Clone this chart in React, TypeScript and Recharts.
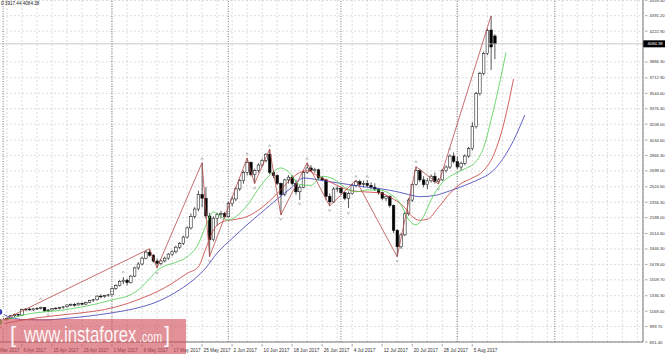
import React from "react";
import { Bar, CartesianGrid, ComposedChart, Line, ReferenceLine, Scatter, XAxis, YAxis } from "recharts";

// daily bars, index 0 = 29 Mar 2017; the chart keeps empty space on the right
const TOTAL_BARS = 174;
const FIRST_BAR = 2;

const dateLabels = [
  "29 Mar 2017", "6 Apr 2017", "15 Apr 2017", "23 Apr 2017", "1 May 2017", "9 May 2017",
  "17 May 2017", "25 May 2017", "2 Jun 2017", "10 Jun 2017", "18 Jun 2017", "26 Jun 2017",
  "4 Jul 2017", "12 Jul 2017", "20 Jul 2017", "28 Jul 2017", "5 Aug 2017",
];

// 4054.60 sits under the last-price box, so it is left out
const priceTicks = [
  4559.5, 4391.2, 4222.9, 3886.3, 3712.9, 3544.6, 3376.3, 3208.0, 3034.6, 2866.3, 2698.0,
  2524.6, 2356.3, 2188.0, 2014.6, 1846.3, 1678.0, 1509.7, 1336.3, 1168.0, 999.7, 831.4,
];

const opens = [
  1045, 1070, 1082, 1090, 1118, 1132, 1125, 1186, 1190, 1182, 1194, 1199, 1206, 1172, 1181, 1195,
  1201, 1207, 1216, 1236, 1240, 1236, 1252, 1245, 1263, 1286, 1292, 1332, 1326, 1338, 1346, 1416,
  1450, 1494, 1506, 1480, 1550, 1640, 1682, 1746, 1812, 1778, 1714, 1690, 1716, 1746, 1790, 1816,
  1866, 1906, 1976, 2076, 2202, 2282, 2440, 2400, 2206, 1948, 2182, 2222, 2232, 2198, 2342, 2392,
  2502, 2592, 2682, 2792, 2658, 2702, 2762, 2812, 2880, 2680, 2648, 2562, 2440, 2600, 2630, 2560,
  2470, 2520, 2680, 2730, 2700, 2710, 2620, 2600, 2420, 2360, 2500, 2510, 2460, 2400, 2450, 2540,
  2580, 2552, 2562, 2540, 2520, 2500, 2460, 2400, 2420, 2320, 2050, 1870, 2000, 2230, 2380, 2550,
  2700, 2600, 2548, 2590, 2640, 2580, 2600, 2700, 2740, 2860, 2800, 2740, 2780, 2860, 2940, 3180,
  3540, 3760, 3980, 4235, 4170,
];
const highs = [
  1078, 1095, 1102, 1125, 1142, 1140, 1195, 1202, 1206, 1200, 1212, 1218, 1212, 1190, 1200, 1210,
  1214, 1222, 1242, 1252, 1256, 1262, 1264, 1272, 1292, 1302, 1342, 1352, 1346, 1356, 1428, 1462,
  1506, 1540, 1522, 1562, 1652, 1702, 1762, 1832, 1848, 1792, 1742, 1732, 1762, 1802, 1832, 1882,
  1922, 1992, 2092, 2232, 2302, 2482, 2787, 2522, 2240, 2202, 2242, 2262, 2252, 2362, 2422, 2522,
  2612, 2702, 2838, 2802, 2722, 2782, 2832, 2892, 2936, 2702, 2662, 2572, 2612, 2652, 2652, 2602,
  2542, 2702, 2787, 2762, 2732, 2722, 2642, 2612, 2452, 2522, 2532, 2522, 2472, 2472, 2562, 2598,
  2602, 2592, 2598, 2572, 2562, 2512, 2472, 2432, 2432, 2332, 2062, 2022, 2252, 2402, 2562, 2745,
  2722, 2640, 2620, 2660, 2680, 2620, 2720, 2760, 2880, 2900, 2850, 2800, 2880, 2960, 3230, 3560,
  3780, 4000, 4250, 4388, 4190,
];
const lows = [
  1030, 1060, 1068, 1080, 1105, 1108, 1118, 1168, 1172, 1168, 1180, 1186, 1160, 1155, 1172, 1184,
  1188, 1194, 1205, 1224, 1218, 1228, 1232, 1238, 1254, 1268, 1284, 1308, 1314, 1324, 1338, 1400,
  1438, 1462, 1448, 1468, 1538, 1618, 1668, 1734, 1762, 1698, 1640, 1668, 1700, 1728, 1768, 1798,
  1848, 1888, 1958, 2058, 2178, 2258, 2300, 2176, 1762, 1928, 2100, 2178, 2178, 2188, 2308, 2368,
  2478, 2558, 2648, 2638, 2560, 2678, 2738, 2790, 2660, 2620, 2544, 2217, 2420, 2560, 2538, 2438,
  2381, 2508, 2668, 2688, 2678, 2598, 2588, 2378, 2315, 2348, 2468, 2438, 2378, 2293, 2438, 2518,
  2528, 2518, 2520, 2498, 2478, 2438, 2378, 2368, 2298, 2018, 1762, 1848, 1988, 2208, 2358, 2538,
  2578, 2520, 2500, 2570, 2560, 2555, 2590, 2680, 2720, 2780, 2720, 2700, 2760, 2840, 2920, 3160,
  3520, 3740, 3960, 3799, 3917.44,
];
const closes = [
  1070, 1082, 1090, 1118, 1132, 1125, 1186, 1190, 1182, 1194, 1199, 1206, 1172, 1181, 1195, 1201,
  1207, 1216, 1236, 1240, 1236, 1252, 1245, 1263, 1286, 1292, 1332, 1326, 1338, 1346, 1416, 1450,
  1494, 1506, 1480, 1550, 1640, 1682, 1746, 1812, 1778, 1714, 1690, 1716, 1746, 1790, 1816, 1866,
  1906, 1976, 2076, 2202, 2282, 2440, 2400, 2206, 1948, 2182, 2222, 2232, 2198, 2342, 2392, 2502,
  2592, 2682, 2792, 2658, 2702, 2762, 2812, 2880, 2680, 2648, 2562, 2440, 2600, 2630, 2560, 2470,
  2520, 2680, 2730, 2700, 2710, 2620, 2600, 2420, 2360, 2500, 2510, 2460, 2400, 2450, 2540, 2580,
  2552, 2562, 2540, 2520, 2500, 2460, 2400, 2420, 2320, 2050, 1870, 2000, 2230, 2380, 2550, 2700,
  2600, 2548, 2590, 2640, 2580, 2600, 2700, 2740, 2860, 2800, 2740, 2780, 2860, 2940, 3180, 3540,
  3760, 3980, 4230, 4050, 4084.38,
];

// Alligator lines at [bar, price]
const lips: [number, number][] = [
  [2, 1050], [6, 1100], [10, 1140], [14, 1160], [18, 1175], [22, 1200], [26, 1230], [30, 1270],
  [33, 1300], [36, 1330], [39, 1400], [42, 1520], [44, 1610], [46, 1660], [49, 1700], [52, 1760],
  [55, 1900], [57, 2100], [59, 2250], [61, 2200], [63, 2160], [65, 2200], [68, 2320], [71, 2500],
  [74, 2650], [77, 2730], [79, 2690], [82, 2550], [85, 2540], [88, 2640], [91, 2610], [94, 2520],
  [97, 2470], [100, 2490], [103, 2490], [106, 2450], [109, 2330], [111, 2170], [113, 2110],
  [115, 2200], [117, 2380], [120, 2570], [123, 2660], [126, 2720], [129, 2800], [131, 2950],
  [133, 3250], [135, 3600], [137, 3990],
];
const teeth: [number, number][] = [
  [2, 1020], [8, 1070], [16, 1115], [24, 1150], [30, 1185], [36, 1250], [40, 1310], [44, 1380],
  [48, 1470], [52, 1580], [55, 1650], [57, 1850], [59, 2050], [62, 2150], [65, 2170], [68, 2200],
  [72, 2300], [76, 2450], [79, 2580], [82, 2680], [84, 2700], [87, 2640], [91, 2560], [95, 2490],
  [99, 2470], [103, 2460], [107, 2390], [110, 2300], [112, 2200], [114, 2160], [116, 2170],
  [119, 2300], [122, 2450], [125, 2560], [128, 2620], [131, 2700], [134, 2900], [136, 3150],
  [139, 3700],
];
const jaw: [number, number][] = [
  [2, 1160], [5, 1100], [9, 1075], [14, 1072], [20, 1090], [26, 1115], [32, 1150], [38, 1195],
  [44, 1270], [50, 1400], [54, 1520], [57, 1640], [60, 1800], [64, 1960], [68, 2110], [72, 2250],
  [76, 2390], [80, 2520], [83, 2620], [87, 2600], [90, 2580], [95, 2550], [99, 2525], [104, 2500],
  [108, 2471], [111, 2440], [114, 2417], [118, 2430], [122, 2480], [126, 2540], [130, 2610],
  [133, 2680], [136, 2820], [139, 3030], [142, 3308],
];

const zigzag: [number, number][] = [
  [1, 1030], [42, 1848], [44, 1640], [56, 2787], [58, 1762], [68, 2838], [70, 2560], [74, 2936],
  [77, 2217], [84, 2787], [90, 2315], [97, 2598], [108, 1762], [113, 2745], [119, 2555], [133, 4388],
];

const fractalUp: [number, number][] = [
  [13, 1290], [35, 1580], [56, 2817], [68, 2871], [74, 2960], [84, 2817], [97, 2625], [100, 2625],
  [113, 2784], [122, 2926],
];
const fractalDown: [number, number][] = [
  [15, 1140], [44, 1595], [58, 1726], [70, 2522], [77, 2184], [82, 2350], [90, 2280], [95, 2250],
  [108, 1726], [119, 2511],
];

const separators = [3, 32, 63, 93, 124, 150];
const lastPrice = 4084.38;

type Row = {
  b: number;
  open?: number;
  high?: number;
  low?: number;
  close?: number;
  range?: [number, number];
  lips?: number;
  teeth?: number;
  jaw?: number;
  zz?: number;
  fUp?: number;
  fDown?: number;
};

const rows: Row[] = Array.from({ length: TOTAL_BARS }, (_, b) => ({ b }));
opens.forEach((o, i) => {
  const r = rows[FIRST_BAR + i];
  r.open = o;
  r.high = highs[i];
  r.low = lows[i];
  r.close = closes[i];
  r.range = [lows[i], highs[i]];
});
lips.forEach(([b, v]) => (rows[b].lips = v));
teeth.forEach(([b, v]) => (rows[b].teeth = v));
jaw.forEach(([b, v]) => (rows[b].jaw = v));
zigzag.forEach(([b, v]) => (rows[b].zz = v));
fractalUp.forEach(([b, v]) => (rows[b].fUp = v));
fractalDown.forEach(([b, v]) => (rows[b].fDown = v));

const gridBars: number[] = [];
for (let b = 0; b < TOTAL_BARS; b += 4) gridBars.push(b);

const labelByBar = new Map<number, string>(dateLabels.map((d, i) => [i * 8, d]));

const FONT = "'Liberation Sans', Arial, sans-serif";

const Candle = (props: any) => {
  const { x, y, width, height, payload } = props;
  if (payload == null || payload.high == null) return <g />;
  const { open, close, high, low } = payload;
  const span = high - low || 1;
  const py = (p: number) => y + ((high - p) / span) * height;
  const cx = x + width / 2;
  const top = py(Math.max(open, close));
  const bot = py(Math.min(open, close));
  const bull = close >= open;
  return (
    <g>
      <line x1={cx} x2={cx} y1={y} y2={y + height} stroke="#111" strokeWidth={0.7} />
      <rect
        x={cx - 1.3}
        y={top}
        width={2.6}
        height={Math.max(bot - top, 0.7)}
        fill={bull ? "#fff" : "#000"}
        stroke="#111"
        strokeWidth={0.55}
      />
    </g>
  );
};

const FractalMark = (props: any) => {
  const { cx, cy, up } = props;
  if (cx == null || cy == null || Number.isNaN(cy)) return <g />;
  const d = up ? -1 : 1;
  return (
    <path
      d={`M${cx - 1.3},${cy} L${cx},${cy + d * 2.2} L${cx + 1.3},${cy}`}
      fill="none"
      stroke="#8a8a8a"
      strokeWidth={0.6}
    />
  );
};

const DateTick = (props: any) => {
  const { x, y, payload } = props;
  const label = labelByBar.get(payload.value);
  if (!label) return <g />;
  return (
    <g>
      <line x1={x} x2={x} y1={y} y2={y + 2.5} stroke="#666" strokeWidth={0.6} />
      <text x={x + 1.5} y={y + 7.5} fontSize={4.7} fill="#333" fontFamily={FONT}>
        {label}
      </text>
    </g>
  );
};

const PriceTick = (props: any) => {
  const { x, y, payload } = props;
  return (
    <g>
      <line x1={x} x2={x + 2.5} y1={y} y2={y} stroke="#666" strokeWidth={0.6} />
      <text x={x + 4.5} y={y + 1.5} fontSize={4.2} fill="#333" fontFamily={FONT}>
        {payload.value.toFixed(2)}
      </text>
    </g>
  );
};

const PriceBox = (props: any) => {
  const { viewBox } = props;
  if (!viewBox) return <g />;
  const x = viewBox.x + viewBox.width;
  const y = viewBox.y;
  return (
    <g>
      <rect x={x} y={y - 3.5} width={22} height={7} fill="#000" />
      <text x={x + 4.5} y={y + 1.5} fontSize={4.2} fill="#fff" fontFamily={FONT}>
        {lastPrice.toFixed(2)}
      </text>
    </g>
  );
};

export default function App() {
  return (
    <div
      style={{
        position: "absolute",
        left: 0,
        top: 0,
        width: 665,
        height: 354,
        overflow: "hidden",
        background: "#fff",
        fontFamily: FONT,
      }}
    >
      <div style={{ position: "absolute", left: -10, top: 0 }}>
        <ComposedChart
          width={675}
          height={354}
          data={rows}
          margin={{ top: 0, right: 0, bottom: 0, left: 0 }}
          barCategoryGap={0}
        >
          <CartesianGrid stroke="#cfcfcf" strokeDasharray="2 2" strokeWidth={0.7} />
          <XAxis
            dataKey="b"
            type="category"
            ticks={gridBars}
            interval={0}
            height={12}
            tick={<DateTick />}
            tickLine={false}
            tickSize={0}
            axisLine={{ stroke: "#777" }}
          />
          <YAxis
            orientation="right"
            type="number"
            domain={[831.4, 4562.5]}
            ticks={priceTicks}
            interval={0}
            width={22}
            allowDataOverflow
            tick={<PriceTick />}
            tickLine={false}
            tickSize={0}
            axisLine={{ stroke: "#777" }}
          />
          {separators.map((b) => (
            <ReferenceLine key={b} x={b} stroke="#555" strokeDasharray="1 1.5" strokeWidth={0.8} />
          ))}
          <ReferenceLine y={lastPrice} stroke="#bbb" strokeWidth={0.8} label={<PriceBox />} />
          <Line dataKey="jaw" type="monotone" stroke="#3a3ab4" strokeWidth={0.8} dot={false} connectNulls isAnimationActive={false} />
          <Line dataKey="teeth" type="monotone" stroke="#c83a3a" strokeWidth={0.8} dot={false} connectNulls isAnimationActive={false} />
          <Line dataKey="lips" type="monotone" stroke="#4ccd4c" strokeWidth={0.8} dot={false} connectNulls isAnimationActive={false} />
          <Line dataKey="zz" type="linear" stroke="#b84a4a" strokeWidth={0.8} dot={false} connectNulls isAnimationActive={false} />
          <Bar dataKey="range" shape={<Candle />} isAnimationActive={false} />
          <Scatter dataKey="fUp" shape={<FractalMark up />} isAnimationActive={false} />
          <Scatter dataKey="fDown" shape={<FractalMark up={false} />} isAnimationActive={false} />
        </ComposedChart>
      </div>
      <div
        style={{
          position: "absolute",
          left: 1,
          top: 1,
          fontSize: 4.6,
          color: "#222",
          whiteSpace: "nowrap",
        }}
      >
        0 3917.44 4084.38
      </div>
      <div
        style={{
          position: "absolute",
          left: 0,
          top: 319,
          width: 186,
          height: 35,
          background: "rgba(208, 78, 88, 0.62)",
          color: "rgba(255,255,255,0.92)",
          fontFamily: FONT,
          whiteSpace: "nowrap",
        }}
      >
        <span style={{ position: "absolute", left: 10, top: 3, fontSize: 22 }}>[</span>
        <span
          style={{
            position: "absolute",
            left: 24,
            top: 3,
            fontSize: 22,
            transform: "scaleX(0.76)",
            transformOrigin: "0 0",
          }}
        >
          www.instaforex
        </span>
        <span
          style={{
            position: "absolute",
            left: 139,
            top: 10,
            fontSize: 14,
            transform: "scaleX(0.76)",
            transformOrigin: "0 0",
          }}
        >
          .com
        </span>
        <span style={{ position: "absolute", left: 164, top: 3, fontSize: 22 }}>]</span>
      </div>
    </div>
  );
}
